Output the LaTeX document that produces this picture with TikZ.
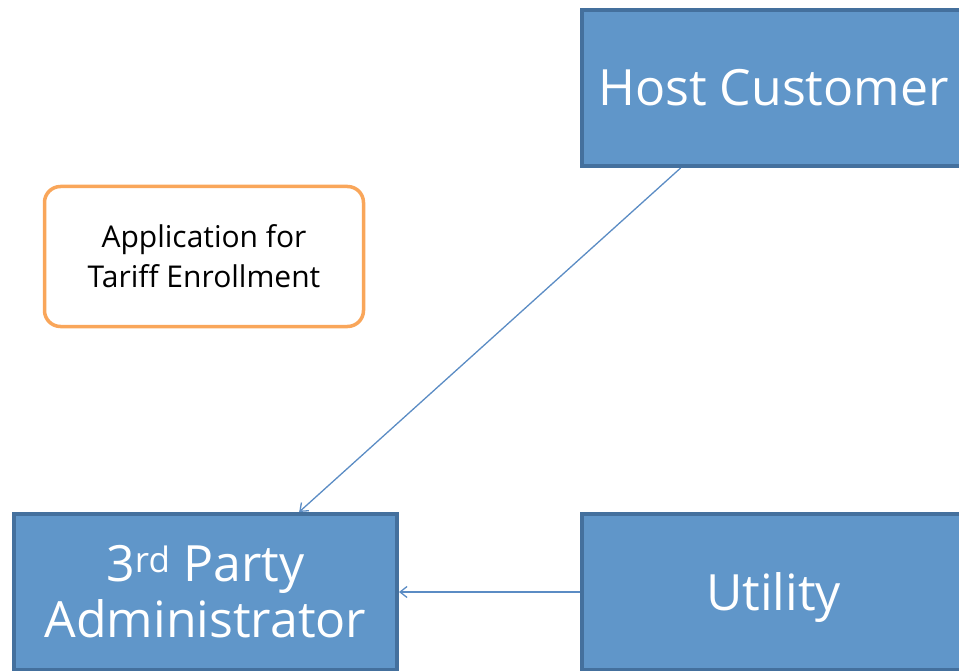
\documentclass[tikz,border=0pt]{standalone}
\usepackage{fontspec}
\setmainfont{Open Sans}
\usetikzlibrary{positioning,arrows.meta,calc}
\definecolor{boxfill}{HTML}{6096C9}
\definecolor{boxline}{HTML}{44709D}
\definecolor{appline}{HTML}{F9A65A}
\definecolor{arrline}{HTML}{5B8CC4}
\tikzset{
  party/.style={draw=boxline, fill=boxfill, line width=4pt, minimum width=383pt, minimum height=156pt, text=white, font=\fontsize{50}{56}\selectfont, align=center, inner sep=0pt},
  doc/.style={draw=appline, fill=white, line width=3.5pt, rounded corners=16pt, minimum width=319pt, minimum height=140pt, font=\fontsize{30}{40}\selectfont, align=center},
  fl/.style={-{Straight Barb[length=7pt,width=11pt]}, arrline, line width=1.3pt},
}
\begin{document}
\begin{tikzpicture}[x=1pt,y=-1pt]
\useasboundingbox (0,0) rectangle (959,671);
\node[party] (host) at (773.5,88) {Host Customer};
\node[party] (admin) at (205.5,592) {3\textsuperscript{rd} Party\\Administrator};
\node[party, text depth=0pt] (utility) at (773.5,592) {Utility};
\node[doc] (app) at (204,256.5) {Application for\\Tariff Enrollment};
\draw[fl] ($(host.south west)!.26!(host.south east)$) -- ($(admin.north west)!.742!(admin.north east)$);
\draw[fl] (utility.west) -- (admin.east);
\end{tikzpicture}
\end{document}
